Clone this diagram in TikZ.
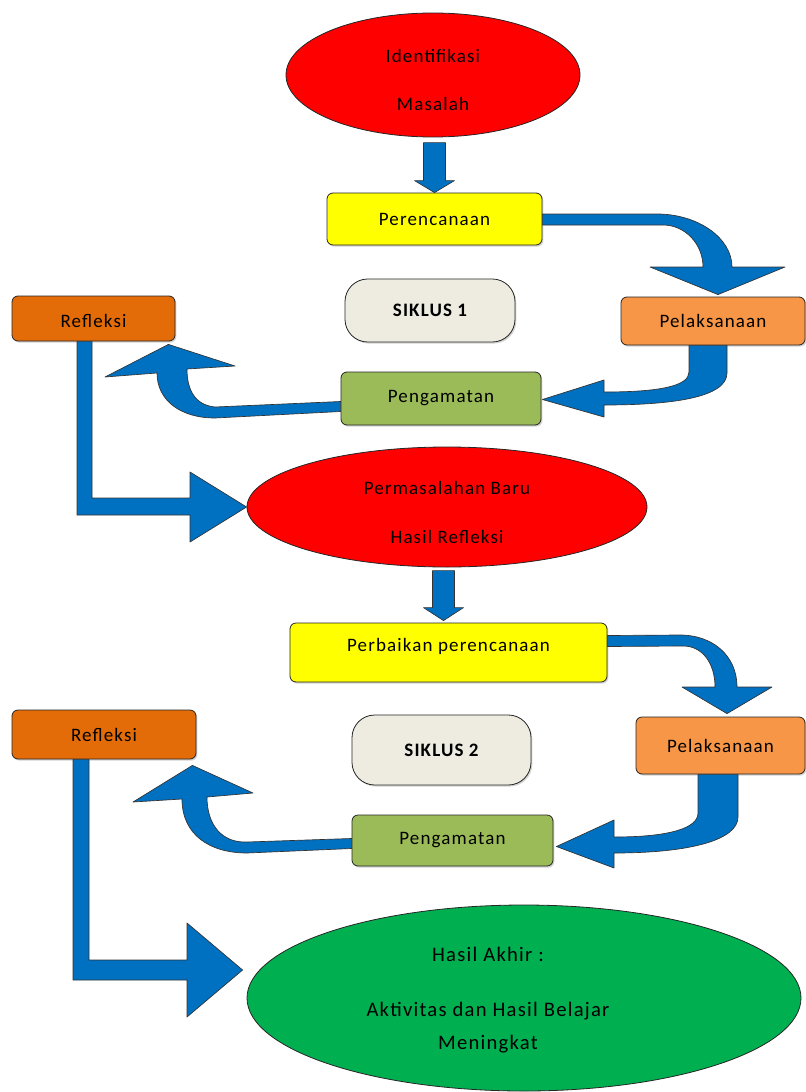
\documentclass[tikz,border=0pt]{standalone}
\usepackage{fontspec}
\setmainfont{Carlito}[LetterSpace=6]
\usetikzlibrary{shapes.geometric,calc,shadows}
\definecolor{ablue}{HTML}{0070C0}
\definecolor{cred}{HTML}{FF0000}
\definecolor{cyel}{HTML}{FFFF00}
\definecolor{cpel}{HTML}{F79646}
\definecolor{cref}{HTML}{E36C09}
\definecolor{cpen}{HTML}{9BBB59}
\definecolor{csik}{HTML}{EEECE1}
\definecolor{cfin}{HTML}{00B050}
\begin{document}
\begin{tikzpicture}[x=0.75pt,y=-0.75pt,
  sz/.style 2 args={minimum width=#1*0.75pt,minimum height=#2*0.75pt},
  boxbase/.style={draw=black!85,line width=0.6pt,rounded corners=4.5pt,inner sep=2pt,
    font=\fontsize{14.25}{17}\selectfont,
    drop shadow={shadow xshift=1pt,shadow yshift=-1.2pt,opacity=0.35}},
  pill/.style={boxbase,rounded corners=17pt,font=\fontsize{14.25}{17}\selectfont\bfseries},
  ell/.style={ellipse,draw=black!85,line width=0.6pt,inner sep=0pt,align=center},
  barrow/.style={fill=ablue,draw=black!80,line width=0.5pt,line join=round}]
\useasboundingbox (0,0) rectangle (806,1092);

% nodes
\node[ell,fill=cred,sz={294}{124},font=\fontsize{14.25}{36}\selectfont] (ide) at (433,75) {\rule{0pt}{18pt}Identifikasi\\Masalah};
\node[boxbase,fill=cyel,sz={215}{52}] (per) at (434.5,219) {Perencanaan};
\node[pill,fill=csik,sz={170}{63}] (sik1) at (430,310.5) {SIKLUS 1};
\node[boxbase,fill=cpel,sz={184}{48}] (pel1) at (713,321) {Pelaksanaan};
\node[boxbase,fill=cref,sz={163}{45}] (ref1) at (93.5,318.5) {\rule{0pt}{14pt}Refleksi};
\node[boxbase,fill=cpen,sz={200}{53}] (pen1) at (441,398.5) {Pengamatan};
\node[ell,fill=cred,sz={400}{120},font=\fontsize{14.25}{36.75}\selectfont] (perm) at (447,507) {\rule{0pt}{18pt}Permasalahan Baru\\Hasil Refleksi};
\node[boxbase,fill=cyel,sz={317}{59}] (pp) at (448.5,652.5) {\rule[-12pt]{0pt}{12pt}Perbaikan perencanaan};
\node[pill,fill=csik,sz={179}{70}] (sik2) at (441.5,750) {SIKLUS 2};
\node[boxbase,fill=cpel,sz={169}{57}] (pel2) at (720.5,745.5) {Pelaksanaan};
\node[boxbase,fill=cref,sz={184}{49}] (ref2) at (104,734.5) {Refleksi};
\node[boxbase,fill=cpen,sz={201}{51}] (pen2) at (452.5,840.5) {Pengamatan};
\node[ell,fill=cfin,sz={554}{186}] (fin) at (524,998) {};
\node[font=\fontsize{15.5}{24.75}\selectfont,align=center,inner sep=0pt] (fintxt) at (488,1000)
  {Hasil Akhir :\\[16.5pt]Aktivitas dan Hasil Belajar\\Meningkat};

% block arrows
\draw[barrow] (per.north) -- ++(-20,-12) -- ++(9,0) -- ++(0,-38) -- ++(22,0) -- ++(0,38) -- ++(9,0) -- cycle;
\draw[barrow] ($(pp.north)+(-5,-2)$) -- ++(-20,-13) -- ++(9,0) -- ++(0,-37) -- ++(22,0) -- ++(0,37) -- ++(9,0) -- cycle;

\draw[barrow] ($(per.east)+(0,-5)$) -- (657,214) .. controls (698,214) and (732,238) .. (732,267)
  -- (785,267) -- ($(pel1.north)+(5,-2)$) -- (650,267) -- (703,267)
  .. controls (703,244) and (685,225) .. (663,225) -- ($(per.east)+(0,6)$) -- cycle;

\draw[barrow] ($(pel1.south)+(-24,0)$) -- (689,372) .. controls (689,386) and (660,392) .. (604,392)
  -- (604,380) -- ($(pen1.east)+(1,1)$) -- (604,417) -- (604,405)
  .. controls (670,405) and (727,398) .. (727,373) -- ($(pel1.south)+(14,0)$) -- cycle;

\draw[barrow] ($(pen1.west)+(0,3)$) -- (215,407) .. controls (195,405) and (187,390) .. (187,369)
  -- (235,366) -- ($(ref1.south east)+(-7,3)$) -- (105,377) -- (157,373)
  .. controls (157,400) and (180,418) .. (215,418) -- ($(pen1.west)+(0,13)$) -- cycle;

\draw[barrow] ($(ref1.south)+(-16.5,0)$) -- (77,515) -- (190,515) -- (190,542) -- (perm.west)
  -- (190,472) -- (190,498) -- (92,498) -- ($(ref1.south)+(-1.5,0)$) -- cycle;

\draw[barrow] ($(pp.east)+(0,-17)$) -- (680,635) .. controls (712,635) and (737,655) .. (737,687)
  -- (772,687) -- ($(pel2.north)+(6.5,-3)$) -- (682,687) -- (715,687)
  .. controls (715,664) and (703,646) .. (683,646) -- ($(pp.east)+(0,-6)$) -- cycle;

\draw[barrow] ($(pel2.south)+(-22.5,0)$) -- (698,813) .. controls (698,828) and (670,837) .. (614,837)
  -- (614,820) -- ($(pen2.east)+(3,6)$) -- (614,868) -- (614,853)
  .. controls (690,853) and (738,840) .. (738,817) -- ($(pel2.south)+(17.5,0)$) -- cycle;

\draw[barrow] ($(pen2.west)+(0,-2)$) -- (247,842) .. controls (222,843) and (207,825) .. (207,797)
  -- (253,793) -- ($(ref2.south east)+(-4,6)$) -- (133,802) -- (182,799)
  .. controls (182,835) and (210,853) .. (247,853) -- ($(pen2.west)+(0,8)$) -- cycle;

\draw[barrow] ($(ref2.south)+(-31,0)$) -- (73,980) -- (187,980) -- (187,1017) -- ($(fin.west)+(-4,-28)$)
  -- (187,923) -- (187,960) -- (89,960) -- ($(ref2.south)+(-15,0)$) -- cycle;
\end{tikzpicture}
\end{document}
